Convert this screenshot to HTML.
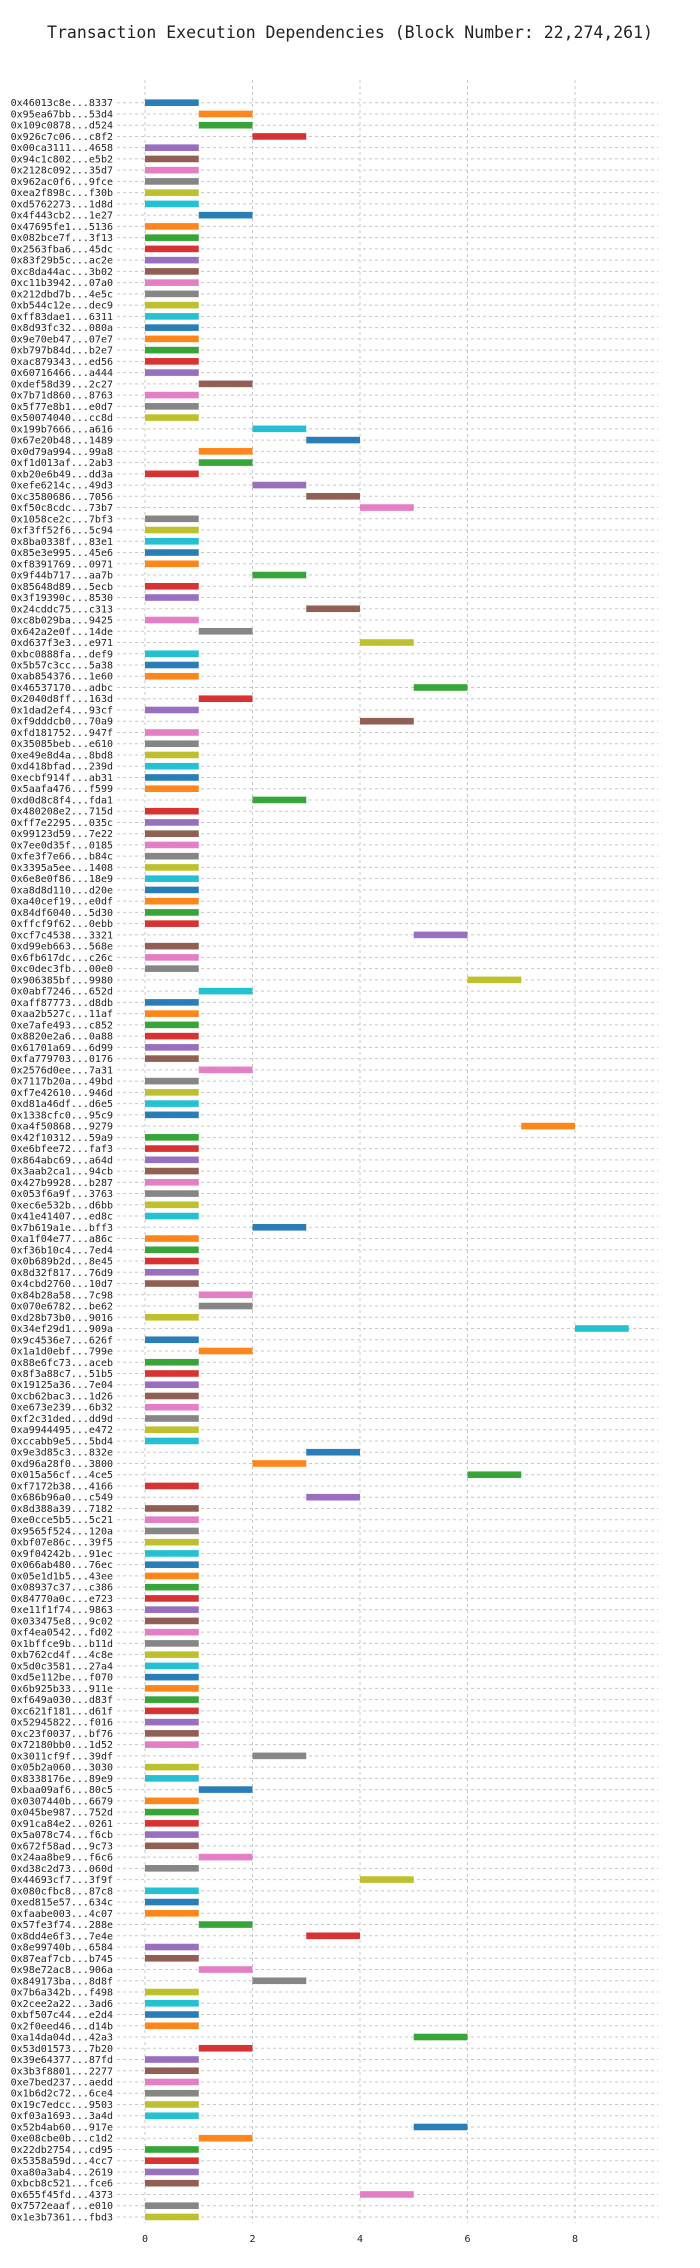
<!DOCTYPE html>
<html>
<head>
<meta charset="utf-8">
<style>
  html,body{margin:0;padding:0;background:#fff;}
  svg{display:block;}
  text{font-family:"DejaVu Sans Mono","Liberation Mono",monospace;fill:#222;}
</style>
</head>
<body>
<svg id="chart" width="700" height="2268" viewBox="0 0 700 2268" xmlns="http://www.w3.org/2000/svg">
  <text x="350" y="38" text-anchor="middle" font-size="16.5">Transaction Execution Dependencies (Block Number: 22,274,261)</text>
  <g id="grid"></g>
  <g id="bars"></g>
  <g id="ylabels"></g>
  <g id="xticks"></g>
</svg>
<script>
const txLabels = [
"0x46013c8e...8337","0x95ea67bb...53d4","0x109c0878...d524","0x926c7c06...c8f2","0x00ca3111...4658","0x94c1c802...e5b2","0x2128c092...35d7","0x962ac0f6...9fce","0xea2f898c...f30b","0xd5762273...1d8d",
"0x4f443cb2...1e27","0x47695fe1...5136","0x082bce7f...3f13","0x2563fba6...45dc","0x83f29b5c...ac2e","0xc8da44ac...3b02","0xc11b3942...07a0","0x212dbd7b...4e5c","0xb544c12e...dec9","0xff83dae1...6311",
"0x8d93fc32...080a","0x9e70eb47...07e7","0xb797b84d...b2e7","0xac879343...ed56","0x60716466...a444","0xdef58d39...2c27","0x7b71d860...8763","0x5f77e8b1...e0d7","0x50074040...cc8d","0x199b7666...a616",
"0x67e20b48...1489","0x0d79a994...99a8","0xf1d013af...2ab3","0xb20e6b49...dd3a","0xefe6214c...49d3","0xc3580686...7056","0xf50c8cdc...73b7","0x1058ce2c...7bf3","0xf3ff52f6...5c94","0x8ba0338f...83e1",
"0x85e3e995...45e6","0xf8391769...0971","0x9f44b717...aa7b","0x85648d89...5ecb","0x3f19390c...8530","0x24cddc75...c313","0xc8b029ba...9425","0x642a2e0f...14de","0xd637f3e3...e971","0xbc0888fa...def9",
"0x5b57c3cc...5a38","0xab854376...1e60","0x46537170...adbc","0x2040d8ff...163d","0x1dad2ef4...93cf","0xf9dddcb0...70a9","0xfd181752...947f","0x35085beb...e610","0xe49e8d4a...8bd8","0xd418bfad...239d",
"0xecbf914f...ab31","0x5aafa476...f599","0xd0d8c8f4...fda1","0x480208e2...715d","0xff7e2295...035c","0x99123d59...7e22","0x7ee0d35f...0185","0xfe3f7e66...b84c","0x3395a5ee...1408","0x6e8e0f86...18e9",
"0xa8d8d110...d20e","0xa40cef19...e0df","0x84df6040...5d30","0xffcf9f62...0ebb","0xcf7c4538...3321","0xd99eb663...568e","0x6fb617dc...c26c","0xc0dec3fb...00e0","0x906385bf...9980","0x0abf7246...652d",
"0xaff87773...d8db","0xaa2b527c...11af","0xe7afe493...c852","0x8820e2a6...0a88","0x61701a69...6d99","0xfa779703...0176","0x2576d0ee...7a31","0x7117b20a...49bd","0xf7e42610...946d","0xd81a46df...d6e5",
"0x1338cfc0...95c9","0xa4f50868...9279","0x42f10312...59a9","0xe6bfee72...faf3","0x864abc69...a64d","0x3aab2ca1...94cb","0x427b9928...b287","0x053f6a9f...3763","0xec6e532b...d6bb","0x41e41407...ed8c",
"0x7b619a1e...bff3","0xa1f04e77...a86c","0xf36b10c4...7ed4","0x0b689b2d...8e45","0x8d32f817...76d9","0x4cbd2760...10d7","0x84b28a58...7c98","0x070e6782...be62","0xd28b73b0...9016","0x34ef29d1...909a",
"0x9c4536e7...626f","0x1a1d0ebf...799e","0x88e6fc73...aceb","0x8f3a88c7...51b5","0x19125a36...7e04","0xcb62bac3...1d26","0xe673e239...6b32","0xf2c31ded...dd9d","0xa9944495...e472","0xccabb9e5...5bd4",
"0x9e3d85c3...832e","0xd96a28f0...3800","0x015a56cf...4ce5","0xf7172b38...4166","0x686b96a0...c549","0x8d388a39...7182","0xe0cce5b5...5c21","0x9565f524...120a","0xbf07e86c...39f5","0x9f04242b...91ec",
"0x066ab480...76ec","0x05e1d1b5...43ee","0x08937c37...c386","0x84770a0c...e723","0xe11f1f74...9863","0x033475e8...9c02","0xf4ea0542...fd02","0x1bffce9b...b11d","0xb762cd4f...4c8e","0x5d0c3581...27a4",
"0xd5e112be...f070","0x6b925b33...911e","0xf649a030...d83f","0xc621f181...d61f","0x52945822...f016","0xc23f0037...bf76","0x72180bb0...1d52","0x3011cf9f...39df","0x05b2a060...3030","0x8338176e...89e9",
"0xbaa09af6...80c5","0x0307440b...6679","0x045be987...752d","0x91ca84e2...0261","0x5a078c74...f6cb","0x672f58ad...9c73","0x24aa8be9...f6c6","0xd38c2d73...060d","0x44693cf7...3f9f","0x080cfbc8...87c8",
"0xed815e57...634c","0xfaabe003...4c07","0x57fe3f74...288e","0x8dd4e6f3...7e4e","0x8e99740b...6584","0x87eaf7cb...b745","0x98e72ac8...906a","0x849173ba...8d8f","0x7b6a342b...f498","0x2cee2a22...3ad6",
"0xbf507c44...e2d4","0x2f0eed46...d14b","0xa14da04d...42a3","0x53d01573...7b20","0x39e64377...87fd","0x3b3f8801...2277","0xe7bed237...aedd","0x1b6d2c72...6ce4","0x19c7edcc...9503","0xf03a1693...3a4d",
"0x52b4ab60...917e","0xe08cbe0b...c1d2","0x22db2754...cd95","0x5358a59d...4cc7","0xa80a3ab4...2619","0xbcb8c521...fce6","0x655f45fd...4373","0x7572eaaf...e010","0x1e3b7361...fbd3"
];
const startTimes = [
0,1,1,2,0,0,0,0,0,0,
1,0,0,0,0,0,0,0,0,0,
0,0,0,0,0,1,0,0,0,2,
3,1,1,0,2,3,4,0,0,0,
0,0,2,0,0,3,0,1,4,0,
0,0,5,1,0,4,0,0,0,0,
0,0,2,0,0,0,0,0,0,0,
0,0,0,0,5,0,0,0,6,1,
0,0,0,0,0,0,1,0,0,0,
0,7,0,0,0,0,0,0,0,0,
2,0,0,0,0,0,1,1,0,8,
0,1,0,0,0,0,0,0,0,0,
3,2,6,0,3,0,0,0,0,0,
0,0,0,0,0,0,0,0,0,0,
0,0,0,0,0,0,0,2,0,0,
1,0,0,0,0,0,1,0,4,0,
0,0,1,3,0,0,1,2,0,0,
0,0,5,1,0,0,0,0,0,0,
5,1,0,0,0,0,4,0,0
];
const durations = startTimes.map(() => 1);
const xTickValues = [0, 2, 4, 6, 8];
const palette = ["#1f77b4","#ff7f0e","#2ca02c","#d62728","#9467bd","#8c564b","#e377c2","#7f7f7f","#bcbd22","#17becf"];

const NS = "http://www.w3.org/2000/svg";
const X0 = 145, PXU = 53.75;
const xScale = v => X0 + v * PXU;
const Y0 = 102.7, ROW = 11.246;
const yScale = i => Y0 + i * ROW;
const plotLeft = xScale(-0.52), plotRight = xScale(9.55), plotTop = 80, plotBottom = 2223;

const grid = document.getElementById('grid');
const bars = document.getElementById('bars');
const ylab = document.getElementById('ylabels');
const xt = document.getElementById('xticks');

function mk(tag, attrs) {
  const e = document.createElementNS(NS, tag);
  for (const k in attrs) e.setAttribute(k, attrs[k]);
  return e;
}

txLabels.forEach((lab, i) => {
  const y = yScale(i);
  const gl = mk('line', {x1: plotLeft, x2: plotRight, y1: y, y2: y, stroke: '#c8c8c8', 'stroke-width': 1, 'stroke-dasharray': '3,3'});
  
  
  grid.appendChild(gl);

  const t = mk('text', {x: 113, y: y + 3.5, 'text-anchor': 'end', 'font-size': 10});
  t.textContent = lab;
  
  
  ylab.appendChild(t);

  const r = mk('rect', {x: xScale(startTimes[i]), y: y - 3.3, width: xScale(startTimes[i] + durations[i]) - xScale(startTimes[i]), height: 6.6, fill: palette[i % 10], 'fill-opacity': 0.95});
  
  
  bars.appendChild(r);
});

xTickValues.forEach(v => {
  const x = xScale(v);
  const gl = mk('line', {x1: x, x2: x, y1: plotTop, y2: plotBottom, stroke: '#c8c8c8', 'stroke-width': 1, 'stroke-dasharray': '3,3'});
  
  
  grid.appendChild(gl);

  const t = mk('text', {x: x, y: 2242, 'text-anchor': 'middle', 'font-size': 10});
  t.textContent = String(v);
  
  
  xt.appendChild(t);
});
</script>
</body>
</html>
